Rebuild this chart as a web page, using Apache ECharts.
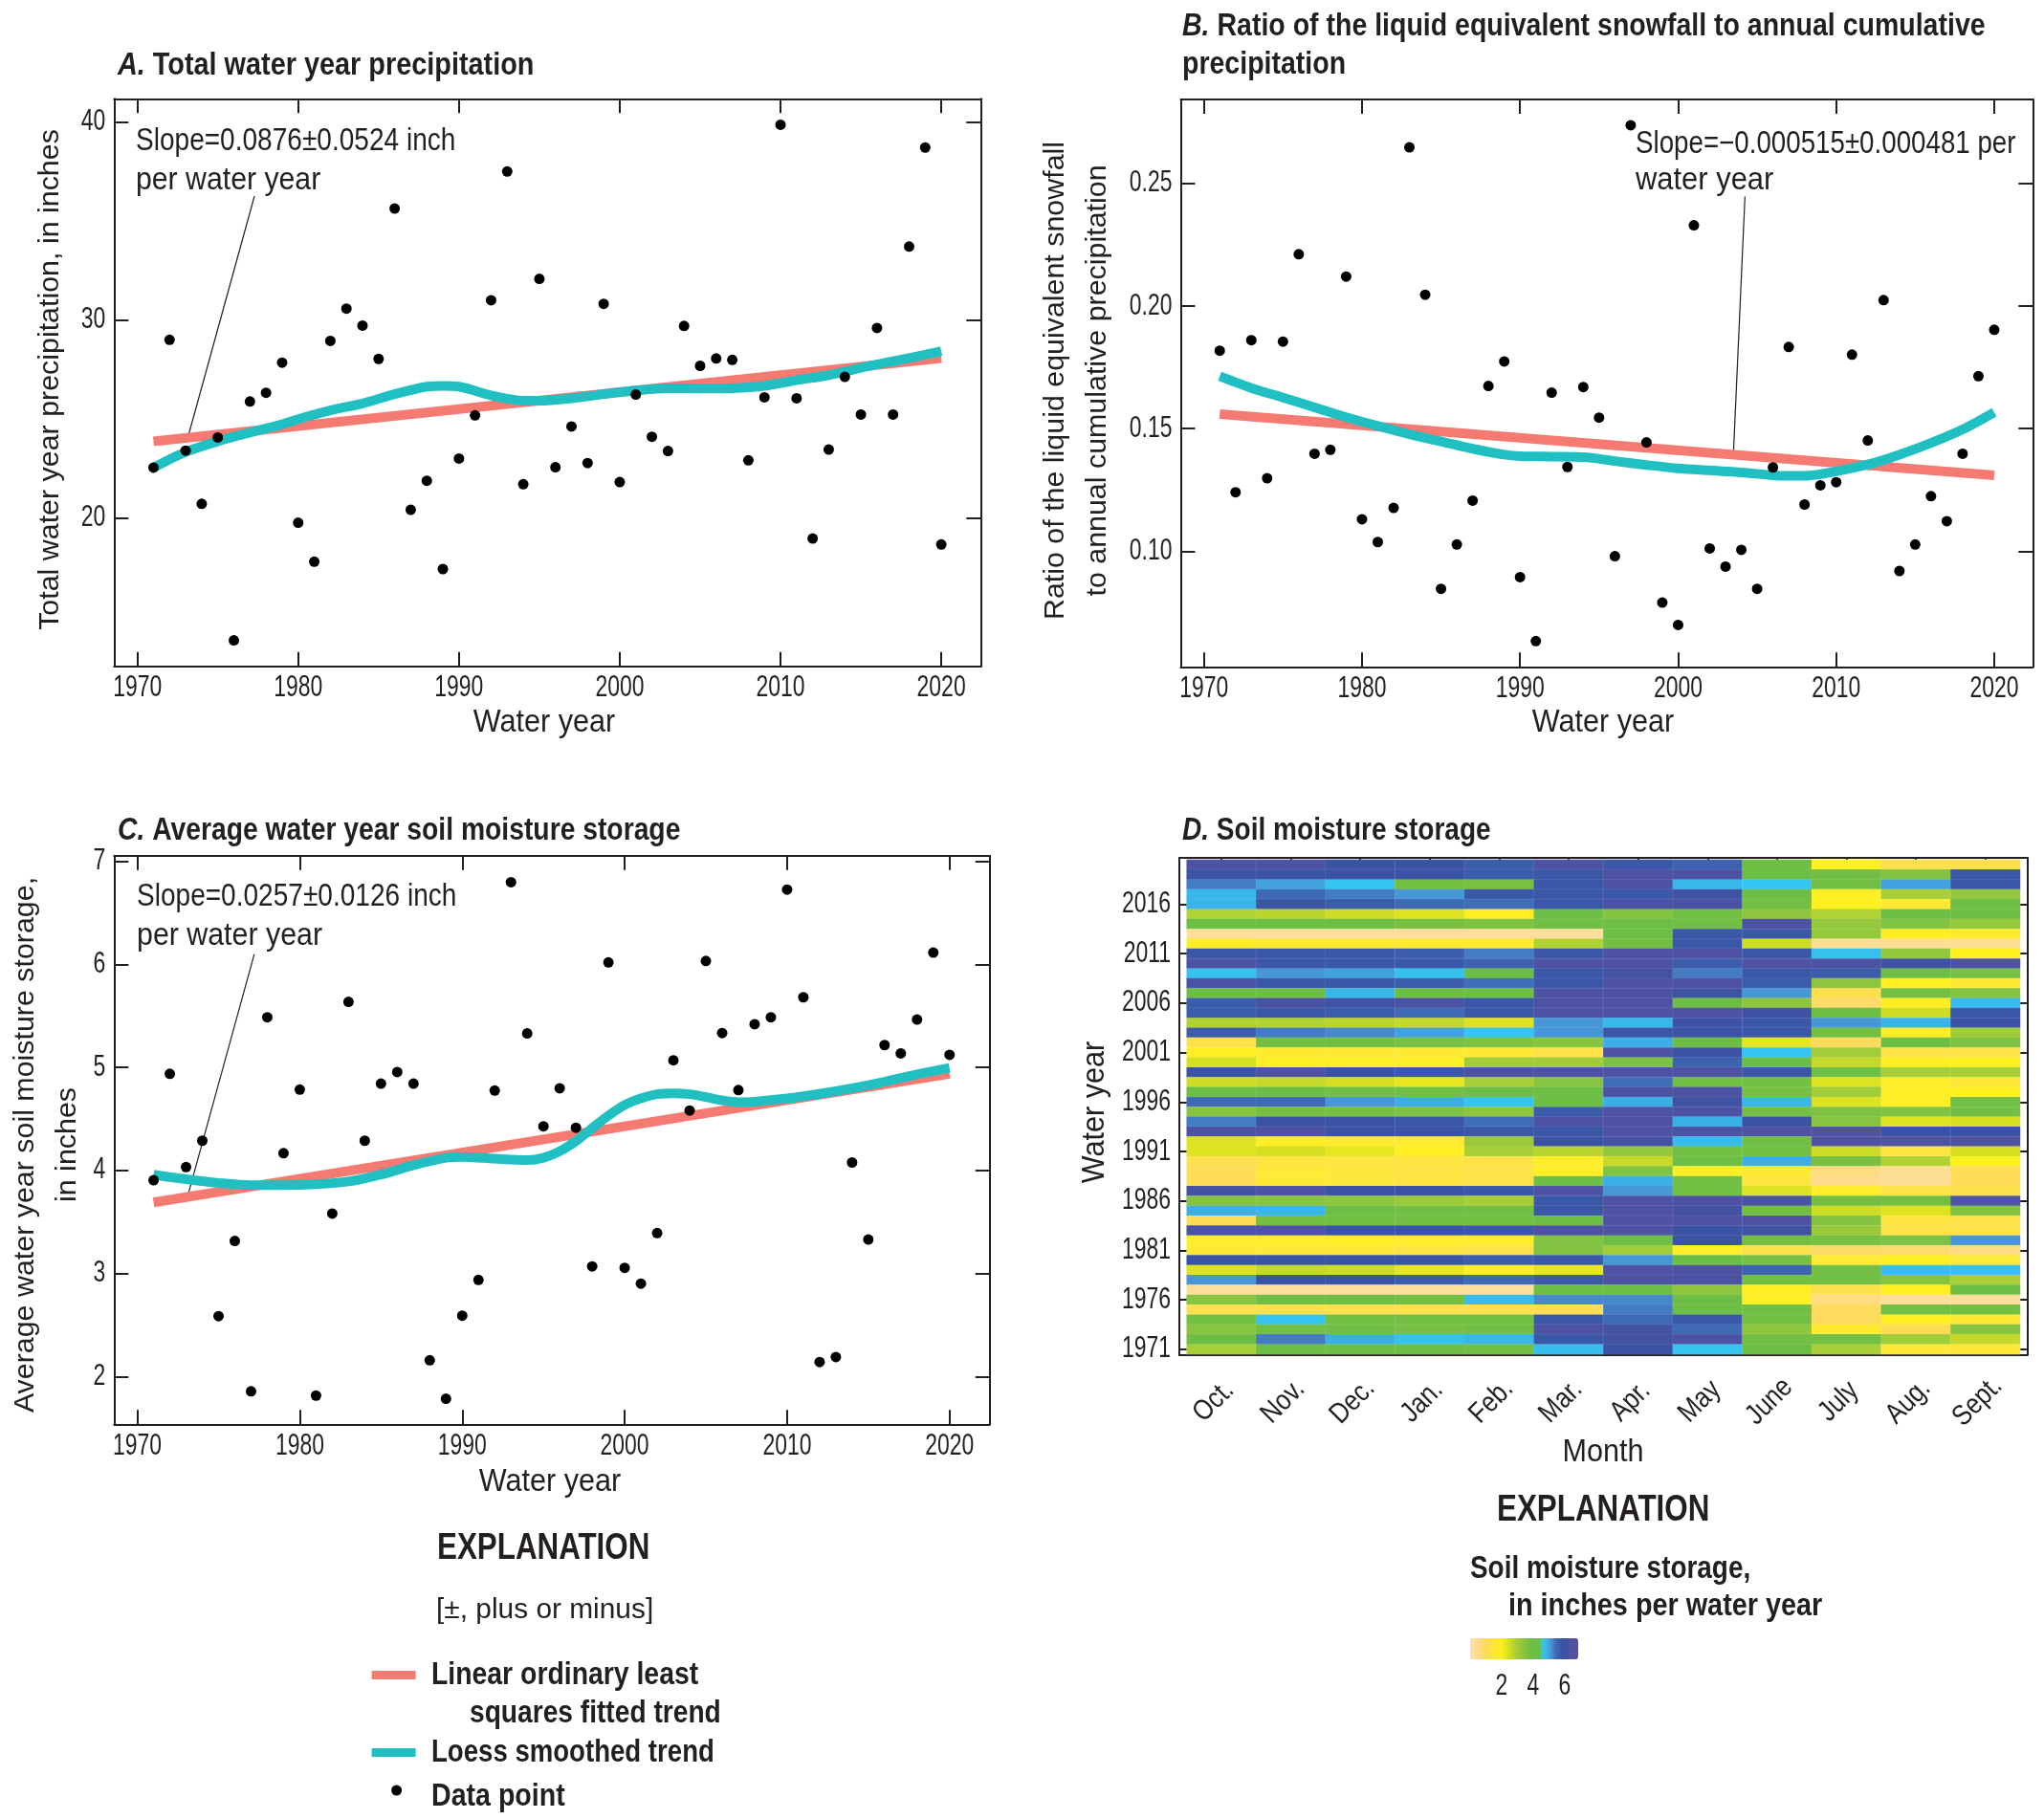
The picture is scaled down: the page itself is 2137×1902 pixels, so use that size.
<!DOCTYPE html>
<html><head><meta charset="utf-8">
<style>html,body{margin:0;padding:0;background:#fff}#c{width:2137px;height:1902px}</style>
<script src="https://cdn.jsdelivr.net/npm/echarts@6/dist/echarts.min.js"></script>
</head><body><div id="c"></div>
<script>
const years=[1971,1972,1973,1974,1975,1976,1977,1978,1979,1980,1981,1982,1983,1984,1985,1986,1987,1988,1989,1990,1991,1992,1993,1994,1995,1996,1997,1998,1999,2000,2001,2002,2003,2004,2005,2006,2007,2008,2009,2010,2011,2012,2013,2014,2015,2016,2017,2018,2019,2020];
const precip=[22.55,29.0,23.41,20.72,24.07,13.83,25.89,26.33,27.85,19.77,17.80,28.95,30.58,29.72,28.04,35.63,20.42,21.89,17.43,23.01,25.19,31.0,37.5,21.71,32.08,22.57,24.63,22.78,30.82,21.82,26.24,24.11,23.39,29.70,27.69,28.06,27.99,22.92,26.10,39.86,26.05,18.97,23.46,27.13,25.23,29.60,25.23,33.71,38.71,18.67];
const snowRatio=[.1818,.1241,.1861,.1298,.1855,.2211,.1398,.1414,.2120,.1131,.1038,.1177,.2647,.2046,.0847,.1028,.1207,.1674,.1774,.0895,.0634,.1647,.1344,.1670,.1545,.0980,.2737,.1444,.0791,.0700,.2329,.1012,.0938,.1006,.0847,.1342,.1833,.1191,.1269,.1282,.1802,.1452,.2024,.0920,.1028,.1225,.1123,.1398,.1714,.1903];
const soilAvg=[3.905,4.937,4.032,4.288,2.586,3.315,1.856,5.486,4.167,4.784,1.815,3.581,5.635,4.288,4.842,4.955,4.842,2.158,1.784,2.590,2.937,4.775,6.797,5.329,4.428,4.797,4.414,3.068,6.018,3.054,2.901,3.392,5.068,4.581,6.032,5.333,4.779,5.419,5.486,6.725,5.680,2.140,2.189,4.077,3.329,5.216,5.135,5.464,6.113,5.122];

const linYears=[1971,2020];
const linPrecip=[23.88,28.08];
const linSnow=[.1559,.1310];
const linSoil=[3.689,4.937];

const loessYearsA=[1971,1973,1975,1977,1979,1980,1982,1984,1986,1988,1989,1990,1992,1994,1995,1997,1999,2001,2003,2005,2007,2009,2011,2013,2015,2017,2019,2020];
const loessA=[22.55,23.34,23.88,24.32,24.74,25.0,25.44,25.79,26.26,26.64,26.68,26.64,26.2,25.93,25.93,26.05,26.26,26.45,26.56,26.54,26.56,26.68,26.96,27.22,27.59,27.92,28.25,28.43];
const loessYearsB=[1971,1973,1975,1977,1979,1981,1983,1985,1987,1989,1990,1992,1994,1996,1998,2000,2002,2004,2006,2007,2008,2010,2012,2014,2016,2018,2020];
const loessB=[.1714,.1666,.1627,.1587,.1547,.1511,.1477,.1448,.1418,.1394,.1388,.1386,.1384,.1368,.1352,.1338,.1330,.1322,.1310,.1308,.1308,.1326,.1354,.1394,.1442,.1497,.1567];
const loessYearsC=[1971,1973,1975,1977,1979,1981,1983,1985,1987,1989,1990,1992,1994,1995,1996,1997,1998,1999,2000,2001,2002,2003,2004,2005,2006,2007,2008,2010,2012,2014,2016,2018,2020];
const loessC=[3.959,3.914,3.878,3.856,3.856,3.865,3.892,3.959,4.05,4.122,4.131,4.113,4.1,4.122,4.185,4.284,4.41,4.532,4.635,4.698,4.739,4.748,4.739,4.712,4.68,4.662,4.667,4.698,4.743,4.797,4.86,4.932,4.995];

const leaderA={x:[1973.1,1977.28],y:[23.96,36.26]};
const leaderB={x:[2003.5,2004.23],y:[.1398,.2446]};
const leaderC={x:[1973.07,1977.2],y:[3.734,6.099]};

const xTickYears=[1970,1980,1990,2000,2010,2020];
const ticksA=[20,30,40];
const ticksB=[.10,.15,.20,.25];
const ticksC=[2,3,4,5,6,7];

const months=['Oct.','Nov.','Dec.','Jan.','Feb.','Mar.','Apr.','May','June','July','Aug.','Sept.'];
const heatYearTicks=[1971,1976,1981,1986,1991,1996,2001,2006,2011,2016];
const heatYearsDesc=years.slice().reverse();
/* rows from water year 2020 down to 1971, Oct. to Sept. */
const heatRows=[
[6.5,6.5,6.0,6.0,5.8,6.5,5.9,5.7,4.0,2.0,1.2,1.2],
[6.1,6.1,6.0,6.0,5.8,5.9,6.5,6.5,4.0,3.9,3.6,5.9],
[5.4,5.1,4.75,3.9,3.8,5.9,6.5,4.9,4.75,3.9,5.1,5.9],
[4.9,5.6,5.4,5.2,5.9,5.9,5.9,6.2,4.1,1.9,3.0,3.3],
[4.95,5.9,5.8,5.6,5.5,5.9,6.4,6.4,3.9,2.0,1.6,4.0],
[2.9,2.8,2.6,2.4,1.9,4.0,3.6,3.9,3.4,2.9,4.0,4.0],
[4.0,4.0,4.0,3.8,3.7,3.9,4.0,3.9,6.5,3.3,3.6,3.3],
[.3,.3,.3,.3,.3,.3,4.0,5.9,5.9,3.3,1.9,1.7],
[1.8,1.7,1.7,1.7,1.7,2.9,3.9,5.9,2.6,.4,.4,.4],
[5.9,5.9,5.9,5.8,5.4,5.9,6.5,6.5,5.9,4.8,3.3,2.0],
[6.5,5.9,5.9,5.9,5.7,6.5,6.5,5.8,6.6,6.5,6.2,6.5],
[4.8,5.2,5.1,4.8,4.0,5.9,6.3,5.4,5.9,5.8,4.0,3.8],
[6.4,5.9,5.9,5.8,5.5,5.9,6.5,6.5,5.8,3.4,1.9,1.6],
[4.0,4.0,4.9,4.0,4.0,6.5,6.5,6.1,5.2,1.2,3.9,3.6],
[5.8,6.4,6.1,6.4,5.9,6.5,6.5,4.0,3.4,.9,1.9,4.85],
[5.8,5.9,5.8,5.6,5.9,6.5,6.5,6.5,6.2,4.0,2.6,5.9],
[2.9,2.9,2.8,2.7,2.4,5.2,4.9,6.2,5.9,5.2,4.95,6.1],
[5.8,5.4,5.3,5.1,4.75,5.2,5.9,6.1,5.9,3.9,1.9,3.1],
[1.2,3.9,3.9,3.8,3.7,3.5,5.0,4.0,2.3,1.0,4.0,3.7],
[1.9,1.7,1.6,1.6,1.6,1.3,6.5,6.1,4.75,3.1,1.3,1.3],
[2.5,1.9,1.8,1.8,3.1,3.1,3.7,5.7,4.0,2.7,1.9,2.0],
[6.0,6.5,6.0,5.9,6.5,6.5,6.5,6.5,5.9,4.0,3.0,3.0],
[2.6,2.7,2.5,2.3,3.0,3.5,5.5,3.9,3.9,2.4,1.8,1.5],
[4.0,4.0,3.9,3.9,4.0,4.0,6.5,6.5,3.8,3.1,1.9,2.0],
[5.6,5.6,5.2,5.0,4.75,4.0,5.0,6.2,4.9,2.4,1.9,3.9],
[3.5,3.8,3.8,3.7,3.4,5.8,6.5,6.5,3.9,3.7,3.6,3.9],
[5.4,6.0,6.0,5.9,5.5,6.5,6.5,5.0,6.0,3.5,2.4,2.5],
[6.5,6.5,6.0,6.0,5.9,5.9,6.5,6.5,6.6,6.6,6.0,6.0],
[2.4,1.9,1.7,1.7,3.2,6.0,6.3,4.85,3.9,6.5,6.5,6.5],
[2.4,2.5,2.3,1.9,3.0,2.8,3.3,3.9,3.9,2.6,1.4,2.5],
[1.2,1.4,1.4,1.4,1.3,1.8,2.7,4.0,5.0,3.8,2.9,2.0],
[1.1,1.6,1.5,1.4,1.3,1.9,3.6,1.9,1.6,.6,.4,1.1],
[1.1,1.6,1.5,1.4,1.3,4.0,5.0,3.9,1.4,.5,.4,1.1],
[6.3,6.5,6.0,6.0,5.9,6.5,5.2,3.9,2.4,1.8,1.3,1.2],
[3.6,3.5,3.4,3.2,3.0,5.9,6.5,6.5,6.4,3.9,3.9,6.5],
[5.0,4.9,4.0,3.9,3.9,5.9,6.5,6.3,3.9,2.6,2.4,3.6],
[1.1,3.9,3.9,3.9,3.9,4.0,6.5,6.5,6.5,3.6,1.4,1.3],
[6.4,6.5,6.0,6.0,5.9,6.5,6.5,6.0,6.2,3.2,1.3,1.3],
[1.8,1.8,1.9,1.8,1.8,3.6,4.0,6.0,3.9,3.8,3.7,5.2],
[1.6,1.5,1.5,1.4,1.3,3.6,3.1,1.8,1.2,.9,.8,.6],
[6.0,6.0,6.0,6.0,5.8,5.9,5.2,4.0,3.8,1.6,1.9,1.5],
[2.4,2.7,2.6,2.3,1.9,2.3,6.5,6.5,5.7,3.9,4.8,4.8],
[5.2,6.0,6.0,5.8,5.6,5.9,6.5,6.4,3.9,3.9,3.5,3.0],
[.3,.3,.3,.3,.3,4.0,4.0,3.4,1.9,1.2,1.9,4.0],
[3.5,4.0,4.0,3.9,4.85,5.3,5.3,4.0,1.9,.6,.3,.3],
[1.2,1.2,1.2,1.2,1.2,1.1,5.4,4.0,3.9,1.0,3.9,3.9],
[3.9,4.75,3.9,3.9,3.9,5.9,5.6,5.9,3.9,1.0,1.9,1.6],
[3.5,3.9,3.9,3.8,3.9,6.5,6.3,5.6,3.4,1.7,1.1,3.5],
[4.0,5.4,5.0,4.8,4.9,5.9,6.3,6.5,3.9,3.9,3.1,2.7],
[3.0,4.0,4.0,4.0,3.9,4.85,6.0,4.75,4.0,3.0,1.5,1.5]
];
/* evenly spaced over 0 to 7 in steps of 0.25 */
const heatColors=['#FEDFB2','#FEDE9F','#FEDC8C','#FEDC74','#FEDB5C','#FEE14B','#FEE83A','#FEEC2C','#FFF01F','#EBE820','#D6E021','#BFD72C','#A8CF38','#97C93C','#87C440','#7AC142','#6DBE45','#6DBE45','#6DBE45','#35C5F0','#3BAEE8','#4A90D0','#3F6FB8','#3C60AE','#3A53A4','#4252A4','#4E52A4','#5451A3','#5451A3'];
const legendTicks=[2,4,6];

const INK='#231F20', RED='#F47A72', TEAL='#1FBFC2';
const FONT="'Liberation Sans',sans-serif";

const grid=[
 {left:119.3,width:906,top:103.3,height:593.4,outerBoundsMode:'none'},
 {left:1234.4,width:890.9,top:104,height:593.3,outerBoundsMode:'none'},
 {left:119.3,width:915.4,top:894.7,height:594.6,outerBoundsMode:'none'},
 {left:1233,width:886.3,top:897,height:519.7,outerBoundsMode:'none'},
 {left:1240.7,width:871.3,top:899,height:517,outerBoundsMode:'none'}
];
function pair(a,b){return a.map((v,i)=>[v,b[i]]);}
function frameAxes(kind,gridIndex,min,max,ticks){
  const first=kind==='x'?'bottom':'left', second=kind==='x'?'top':'right';
  const base={type:'value',gridIndex,min,max,scale:true,splitLine:{show:false},axisLabel:{show:false},
    axisLine:{show:true,onZero:false,lineStyle:{color:INK,width:2}},
    axisTick:{show:true,inside:true,length:15,lineStyle:{color:INK,width:2},customValues:ticks}};
  return [Object.assign({},base,{position:first}),Object.assign({},base,{position:second})];
}
const xAxis=[],yAxis=[];
const heatXTicks=months.map((m,i)=>i);
xAxis.push(...frameAxes('x',0,1968.55,2022.45,xTickYears));
yAxis.push(...frameAxes('y',0,12.52,41.17,ticksA));
xAxis.push(...frameAxes('x',1,1968.53,2022.44,xTickYears));
yAxis.push(...frameAxes('y',1,.0529,.2842,ticksB));
xAxis.push(...frameAxes('x',2,1968.57,2022.47,xTickYears));
yAxis.push(...frameAxes('y',2,1.536,7.054,ticksC));
xAxis.push(...frameAxes('x',3,-.606,11.6,heatXTicks));
yAxis.push(...frameAxes('y',3,1970.43,2020.69,heatYearTicks));
xAxis.push({type:'category',gridIndex:4,data:months,show:false});
yAxis.push({type:'category',gridIndex:4,data:heatYearsDesc,inverse:true,show:false});

function linesFor(g,loY,loV,lin,leader,pts){
  const a={xAxisIndex:2*g,yAxisIndex:2*g,silent:true};
  return [
   Object.assign({type:'line',name:'Leader',data:pair(leader.x,leader.y),showSymbol:false,lineStyle:{color:INK,width:1.2},z:3},a),
   Object.assign({type:'line',name:'Linear ordinary least squares fitted trend',data:pair(linYears,lin),showSymbol:false,lineStyle:{color:RED,width:10,cap:'butt'},z:4},a),
   Object.assign({type:'line',name:'Loess smoothed trend',data:pair(loY,loV),smooth:.3,showSymbol:false,lineStyle:{color:TEAL,width:10,cap:'butt'},z:5},a),
   Object.assign({type:'scatter',name:'Data point',data:pair(years,pts),symbolSize:11,itemStyle:{color:'#000',opacity:1},z:6},a)
  ];
}
const heatData=[];
heatRows.forEach((r,i)=>r.forEach((v,j)=>heatData.push([j,i,v])));
const series=[
 ...linesFor(0,loessYearsA,loessA,linPrecip,leaderA,precip),
 ...linesFor(1,loessYearsB,loessB,linSnow,leaderB,snowRatio),
 ...linesFor(2,loessYearsC,loessC,linSoil,leaderC,soilAvg),
 {type:'heatmap',name:'Soil moisture storage',xAxisIndex:8,yAxisIndex:8,data:heatData,silent:true,z:1,
  itemStyle:{borderColor:'rgba(255,255,255,0.14)',borderWidth:.6},progressive:0,animation:false}
];
for(let g=0;g<4;g++){series.push({type:'line',data:[],xAxisIndex:2*g+1,yAxisIndex:2*g+1,silent:true});}

function txt(x,y,text,size,scale,opt){
  const o=opt||{};
  return {type:'text',x,y,silent:true,z:20,scaleX:scale||1,rotation:o.rot||0,style:{text,fill:INK,fontFamily:FONT,fontSize:size,fontWeight:o.weight||'normal',
    textAlign:o.align||'left',textVerticalAlign:'middle'}};
}
function title(x,y,letter,text,scale){
  return {type:'text',x,y,silent:true,z:20,scaleX:scale,style:{text:'{i|'+letter+'}{b| '+text+'}',fill:INK,textVerticalAlign:'middle',
    rich:{i:{fontFamily:FONT,fontSize:T,fontWeight:'bold',fontStyle:'italic',fill:INK},
          b:{fontFamily:FONT,fontSize:T,fontWeight:'bold',fill:INK}}}};
}
const T=33, B={weight:'bold'}, SL=33, NAME=34, NS=.9, TK=31, TS=.74;
const V=Math.PI/2;
const graphicBase=[
 title(123,69,'A.','Total water year precipitation',.874),
 title(1236,28,'B.','Ratio of the liquid equivalent snowfall to annual cumulative',.864),
 txt(1236,68,'precipitation',T,.864,B),
 title(123,869,'C.','Average water year soil moisture storage',.857),
 title(1236,869,'D.','Soil moisture storage',.85),
 txt(142,148,'Slope=0.0876±0.0524 inch',SL,.85),txt(142,189,'per water year',SL,.916),
 txt(1710,151,'Slope=−0.000515±0.000481 per',SL,.84),txt(1710,189,'water year',SL,.937),
 txt(143,938,'Slope=0.0257±0.0126 inch',SL,.85),txt(143,979,'per water year',SL,.92),
 txt(569,756,'Water year',NAME,NS,{align:'center'}),
 txt(1676,756,'Water year',NAME,NS,{align:'center'}),
 txt(575,1550,'Water year',NAME,NS,{align:'center'}),
 txt(1676,1519,'Month',NAME,NS,{align:'center'}),
 txt(1145,1163,'Water year',NAME,NS,{align:'center',rot:V}),
 txt(53,397,'Total water year precipitation, in inches',30.4,1,{align:'center',rot:V}),
 txt(1104,398,'Ratio of the liquid equivalent snowfall',30.4,1,{align:'center',rot:V}),
 txt(1148,398,'to annual cumulative precipitation',30.4,1,{align:'center',rot:V}),
 txt(27,1197,'Average water year soil moisture storage,',30.4,1,{align:'center',rot:V}),
 txt(71,1197,'in inches',30.4,1,{align:'center',rot:V}),
 txt(457,1620,'EXPLANATION',38,.825,B),
 txt(456,1684,'[±, plus or minus]',29,1.03),
 {type:'rect',silent:true,shape:{x:388.6,y:1747,width:46,height:9},style:{fill:RED}},
 {type:'rect',silent:true,shape:{x:388.6,y:1828,width:46,height:9},style:{fill:TEAL}},
 {type:'circle',silent:true,shape:{cx:414.6,cy:1872,r:5.5},style:{fill:'#000'}},
 txt(451,1752,'Linear ordinary least',T,.86,B),
 txt(491,1792,'squares fitted trend',T,.853,B),
 txt(451,1833,'Loess smoothed trend',T,.836,B),
 txt(451,1879,'Data point',T,.866,B),
 txt(1565,1580,'EXPLANATION',38,.825,B),
 txt(1537,1641,'Soil moisture storage,',T,.846,B),
 txt(1577,1680,'in inches per water year',T,.873,B),
 ...legendTicks.map(v=>txt(1537+v*16.5,1763,String(v),TK,TS,{align:'center'}))
];
const option={
 animation:false,backgroundColor:'#fff',grid,xAxis,yAxis,series,
 visualMap:{type:'continuous',seriesIndex:series.findIndex(s=>s.type==='heatmap'),dimension:2,min:0,max:7,
  inRange:{color:heatColors},orient:'horizontal',left:1537,top:1713,itemWidth:22,itemHeight:113,
  calculable:false,hoverLink:false,text:null,showLabel:false,padding:0}
};
const chart=echarts.init(document.getElementById('c'),null,{renderer:'canvas',width:2137,height:1902});
chart.setOption(option);

/* tick labels are placed through the axes' own scales; the narrow look needs a horizontal scale on the text */
function px(g,x,y){return chart.convertToPixel({xAxisIndex:2*g,yAxisIndex:2*g},[x,y]);}
const tickText=[];
const panels=[[0,1968.55,12.52,xTickYears,ticksA,v=>String(v)],[1,1968.53,.0529,xTickYears,ticksB,v=>v.toFixed(2)],[2,1968.57,1.536,xTickYears,ticksC,v=>String(v)]];
panels.forEach(([g,xm,ym,xt,yt,f])=>{
  xt.forEach(v=>{const p=px(g,v,ym);tickText.push(txt(p[0],p[1]+23,String(v),TK,TS,{align:'center'}));});
  yt.forEach(v=>{const p=px(g,xm,v);tickText.push(txt(p[0]-9,p[1],f(v),TK,TS,{align:'right'}));});
});
heatYearTicks.forEach(v=>{const p=px(3,-.606,v);tickText.push(txt(p[0]-9,p[1],String(v),TK,TS,{align:'right'}));});
heatXTicks.forEach(i=>{const p=px(3,i,1970.43);tickText.push(txt(p[0]-8,p[1]+49,months[i],30,.85,{align:'center',rot:Math.PI/4}));});
chart.setOption({graphic:graphicBase.concat(tickText)});
</script></body></html>
